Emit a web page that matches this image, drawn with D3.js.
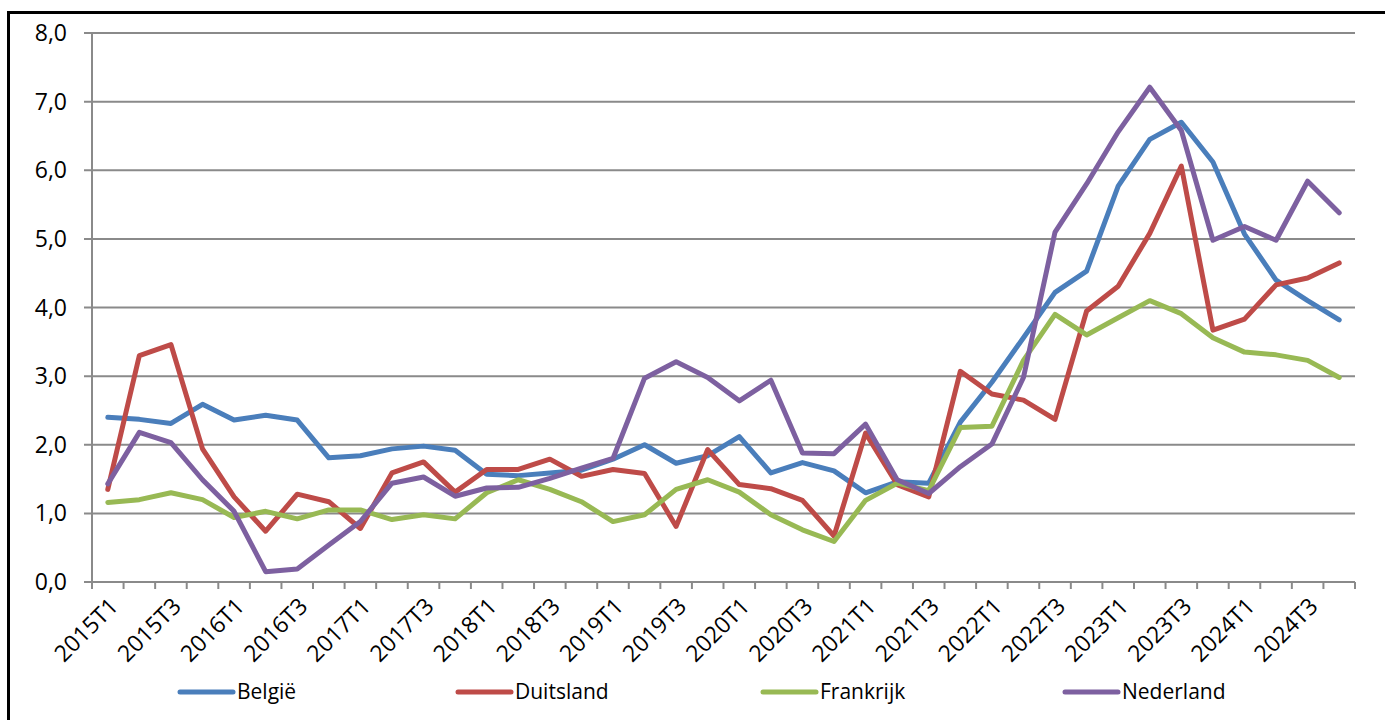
<!DOCTYPE html>
<html>
<head>
<meta charset="utf-8">
<script src="https://cdn.jsdelivr.net/npm/d3@7"></script>
<style>
  body { margin: 0; background: #fff; }
  svg { display: block; font-family: "Open Sans", sans-serif; }
</style>
</head>
<body>
<svg width="1385" height="720"></svg>
<script>
// quarters 2015T1 .. 2024T4
var quarters = [];
for (var yr = 2015; yr <= 2024; yr++) {
  for (var q = 1; q <= 4; q++) quarters.push(yr + "T" + q);
}

var belgie = [2.40, 2.37, 2.31, 2.59, 2.36, 2.43, 2.36, 1.81, 1.84, 1.94,
  1.98, 1.92, 1.57, 1.55, 1.59, 1.63, 1.79, 2.00, 1.73, 1.84,
  2.12, 1.59, 1.74, 1.62, 1.30, 1.46, 1.44, 2.33, 2.91, 3.56,
  4.22, 4.53, 5.77, 6.45, 6.70, 6.12, 5.07, 4.40, 4.10, 3.82];
var duitsland = [1.35, 3.30, 3.46, 1.94, 1.24, 0.74, 1.28, 1.17, 0.78, 1.59,
  1.75, 1.31, 1.64, 1.64, 1.79, 1.54, 1.64, 1.58, 0.81, 1.93,
  1.42, 1.36, 1.19, 0.67, 2.17, 1.42, 1.24, 3.07, 2.74, 2.65,
  2.37, 3.95, 4.31, 5.08, 6.06, 3.67, 3.83, 4.33, 4.43, 4.65];
var frankrijk = [1.16, 1.20, 1.30, 1.20, 0.94, 1.03, 0.92, 1.05, 1.05, 0.91,
  0.98, 0.92, 1.30, 1.49, 1.35, 1.17, 0.88, 0.98, 1.35, 1.49,
  1.31, 0.98, 0.76, 0.59, 1.19, 1.44, 1.33, 2.25, 2.27, 3.23,
  3.90, 3.60, 3.85, 4.10, 3.91, 3.56, 3.35, 3.31, 3.23, 2.98];
var nederland = [1.43, 2.18, 2.03, 1.49, 1.03, 0.15, 0.19, 0.54, 0.88, 1.44,
  1.53, 1.25, 1.37, 1.38, 1.51, 1.66, 1.80, 2.97, 3.21, 2.98,
  2.64, 2.94, 1.88, 1.87, 2.30, 1.49, 1.29, 1.68, 2.01, 2.98,
  5.10, 5.80, 6.56, 7.21, 6.58, 4.98, 5.18, 4.98, 5.84, 5.38];

var seriesNames = ["België", "Duitsland", "Frankrijk", "Nederland"];
var seriesColors = ["#4a7ebb", "#be4b48", "#98b954", "#7d60a0"];
var yTicks = [0, 1, 2, 3, 4, 5, 6, 7, 8];

var series = [belgie, duitsland, frankrijk, nederland].map(function(vals, i) {
  return { name: seriesNames[i], color: seriesColors[i], values: vals };
});

var plot = { left: 92, right: 1355, top: 33, bottom: 582 };
var svg = d3.select("svg");

var xScale = d3.scaleBand()
  .domain(quarters)
  .range([plot.left, plot.right])
  .padding(0);
var yScale = d3.scaleLinear()
  .domain([0, 8])
  .range([plot.bottom, plot.top]);

// outer frame (only top and left edge visible in the crop)
svg.append("path")
  .attr("d", "M8.5,720 L8.5,12.5 L1385,12.5")
  .attr("fill", "none")
  .attr("stroke", "#000")
  .attr("stroke-width", 3);

// gridlines
svg.append("g")
  .selectAll("line")
  .data(yTicks)
  .enter().append("line")
  .attr("x1", plot.left - 8)
  .attr("x2", plot.right)
  .attr("y1", function(d) { return yScale(d); })
  .attr("y2", function(d) { return yScale(d); })
  .attr("stroke", "#8a8a8a")
  .attr("stroke-width", 2);

// y axis line
svg.append("line")
  .attr("x1", plot.left).attr("x2", plot.left)
  .attr("y1", plot.top).attr("y2", plot.bottom)
  .attr("stroke", "#8a8a8a")
  .attr("stroke-width", 2);

// y labels
svg.append("g")
  .selectAll("text")
  .data(yTicks)
  .enter().append("text")
  .attr("x", plot.left - 25)
  .attr("y", function(d) { return yScale(d); })
  .attr("dy", "0.35em")
  .attr("text-anchor", "end")
  .attr("font-size", "23px")
  .attr("fill", "#000")
  .text(function(d) { return d3.format(".1f")(d).replace(".", ","); });

// x ticks at category boundaries
var boundaries = quarters.map(function(q) { return xScale(q); }).concat([plot.right]);
svg.append("g")
  .selectAll("line")
  .data(boundaries)
  .enter().append("line")
  .attr("x1", function(d) { return d; })
  .attr("x2", function(d) { return d; })
  .attr("y1", plot.bottom)
  .attr("y2", plot.bottom + 7)
  .attr("stroke", "#8a8a8a")
  .attr("stroke-width", 2);

// x labels, every second quarter
svg.append("g")
  .selectAll("text")
  .data(quarters.filter(function(d, i) { return i % 2 == 0; }))
  .enter().append("text")
  .attr("transform", function(d) {
    var cx = xScale(d) + xScale.bandwidth() / 2 + 6;
    return "translate(" + cx + "," + (plot.bottom + 20) + ") rotate(-45)";
  })
  .attr("text-anchor", "end")
  .attr("dy", "0.35em")
  .attr("font-size", "23px")
  .attr("fill", "#000")
  .text(function(d) { return d; });

// lines
var line = d3.line()
  .x(function(d, i) { return xScale(quarters[i]) + xScale.bandwidth() / 2; })
  .y(function(d) { return yScale(d); });

svg.append("g")
  .selectAll("path")
  .data(series)
  .enter().append("path")
  .attr("d", function(d) { return line(d.values); })
  .attr("fill", "none")
  .attr("stroke", function(d) { return d.color; })
  .attr("stroke-width", 5)
  .attr("stroke-linejoin", "round")
  .attr("stroke-linecap", "round");

// legend
var legendX = [180, 458, 763, 1065];
var legend = svg.append("g")
  .selectAll("g")
  .data(series)
  .enter().append("g")
  .attr("transform", function(d, i) { return "translate(" + legendX[i] + ",692)"; });

legend.append("line")
  .attr("x1", 0).attr("x2", 53)
  .attr("y1", 0).attr("y2", 0)
  .attr("stroke", function(d) { return d.color; })
  .attr("stroke-width", 5)
  .attr("stroke-linecap", "round");

legend.append("text")
  .attr("x", 57)
  .attr("y", 0)
  .attr("dy", "0.35em")
  .attr("font-size", "21px")
  .attr("fill", "#000")
  .text(function(d) { return d.name; });
</script>
</body>
</html>
